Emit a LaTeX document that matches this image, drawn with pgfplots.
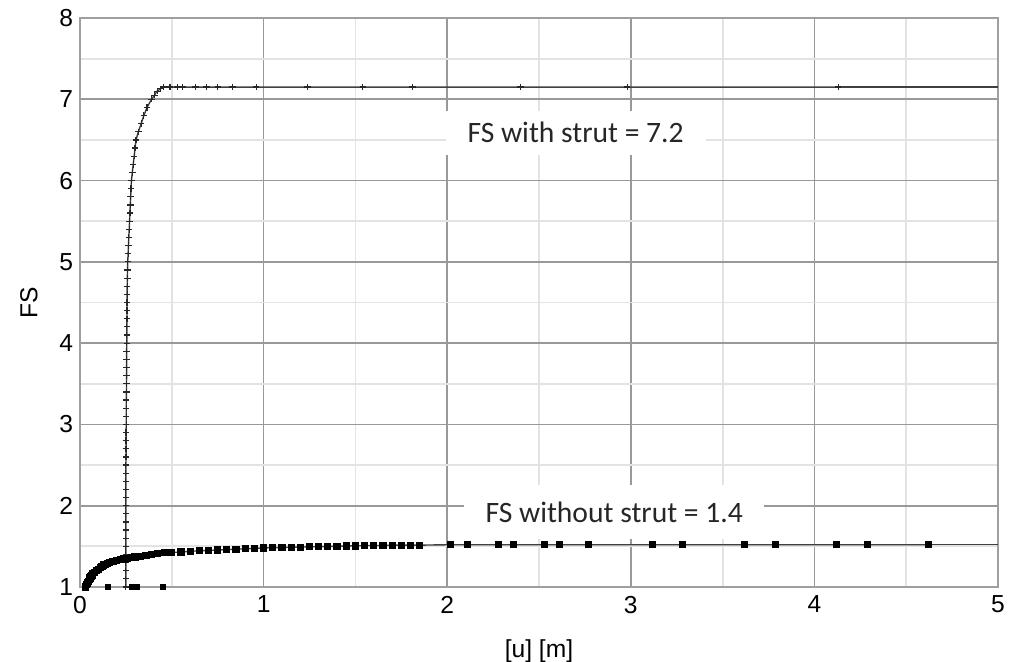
\documentclass[border=0pt]{standalone}
\usepackage{fontspec}
\setmainfont{Liberation Sans}
\newfontfamily\calibri{Carlito}
\usepackage{pgfplots}
\pgfplotsset{compat=1.18}

\begin{document}
\begin{tikzpicture}
\begin{axis}[
  width=459pt, height=284.5pt, scale only axis,
  xmin=0, xmax=5, ymin=1, ymax=8,
  xtick={0,1,2,3,4,5}, ytick={1,2,3,4,5,6,7,8},
  minor x tick num=1, minor y tick num=1,
  grid=both,
  major grid style={draw=gray!80, line width=0.8pt},
  minor grid style={draw=gray!22, line width=0.9pt},
  axis line style={draw=gray!75, line width=0.9pt},
  major tick length=0pt, minor tick length=0pt,
  tick label style={font=\fontsize{12.3}{14}\selectfont},
  /pgf/number format/assume math mode=true,
  xticklabel style={yshift=-1pt},
  xlabel={[u] [m]}, ylabel={FS},
  label style={font=\fontsize{12.3}{14}\selectfont},
  xlabel style={yshift=-6pt},
  ylabel style={yshift=4pt},
  clip=false,
]
% FS with strut
\addplot[draw=gray!50!black, line width=0.7pt, mark=+, mark size=1.6pt,
  mark options={black!85, line width=0.6pt}] coordinates {
(0.250,1.0)(0.250,1.1)(0.250,1.2)(0.250,1.3)(0.250,1.4)(0.250,1.5)(0.250,1.6)(0.250,1.7)
(0.250,1.8)(0.250,1.9)(0.250,2.0)(0.250,2.1)(0.250,2.2)(0.250,2.3)(0.250,2.4)(0.250,2.5)
(0.251,2.6)(0.251,2.7)(0.251,2.8)(0.251,2.9)(0.252,3.0)(0.252,3.1)(0.252,3.2)(0.252,3.3)
(0.253,3.4)(0.253,3.5)(0.254,3.6)(0.254,3.7)(0.254,3.8)(0.254,3.9)(0.255,4.0)(0.255,4.1)
(0.255,4.2)(0.256,4.3)(0.256,4.4)(0.256,4.5)(0.257,4.6)(0.257,4.7)(0.258,4.8)(0.259,4.9)
(0.260,5.0)(0.262,5.1)(0.264,5.2)(0.266,5.3)(0.268,5.4)(0.270,5.5)(0.272,5.6)(0.274,5.7)
(0.276,5.8)(0.278,5.9)(0.280,6.0)(0.285,6.1)(0.290,6.2)(0.295,6.3)(0.300,6.4)(0.305,6.5)
(0.318,6.6)(0.333,6.7)(0.348,6.8)(0.365,6.9)(0.390,7.0)(0.405,7.05)(0.420,7.1)(0.440,7.13)
(0.455,7.15)(0.49,7.15)(0.53,7.15)(0.56,7.15)(0.63,7.15)(0.69,7.15)(0.75,7.15)(0.83,7.15)
(0.96,7.15)(1.24,7.15)(1.54,7.15)(1.81,7.15)(2.40,7.15)(2.98,7.15)(4.13,7.15)
};
\addplot[draw=gray!50!black, line width=0.7pt] coordinates {(4.13,7.15)(5,7.15)};
% FS without strut
\addplot[draw=gray!50!black, line width=0.7pt, mark=square*, mark size=1.45pt,
  mark options={black}] coordinates {
(0.03,1.0)(0.035,1.03)(0.04,1.05)(0.045,1.07)(0.05,1.09)(0.055,1.11)(0.06,1.13)(0.065,1.145)
(0.07,1.16)(0.08,1.18)(0.09,1.2)(0.1,1.22)(0.11,1.24)(0.12,1.255)(0.13,1.27)(0.14,1.28)
(0.15,1.29)(0.16,1.30)(0.18,1.315)(0.2,1.325)(0.22,1.335)(0.24,1.345)(0.26,1.355)(0.28,1.36)
(0.3,1.37)(0.33,1.38)(0.36,1.39)(0.39,1.40)(0.42,1.41)(0.46,1.42)(0.5,1.425)(0.55,1.43)
(0.6,1.44)(0.65,1.445)(0.7,1.45)(0.75,1.455)(0.8,1.46)(0.85,1.465)(0.9,1.47)(0.95,1.475)
(1.0,1.48)(1.05,1.485)(1.1,1.485)(1.15,1.49)(1.2,1.49)(1.25,1.495)(1.3,1.495)(1.35,1.5)
(1.4,1.5)(1.45,1.505)(1.5,1.505)(1.55,1.51)(1.6,1.51)(1.65,1.51)(1.7,1.515)(1.75,1.515)
(1.8,1.515)(1.85,1.515)(2.02,1.52)(2.11,1.52)(2.28,1.52)(2.36,1.52)(2.53,1.52)(2.61,1.52)
(2.77,1.52)(3.12,1.52)(3.28,1.52)(3.62,1.52)(3.79,1.52)(4.12,1.52)(4.29,1.52)(4.62,1.52)
};
\addplot[draw=gray!50!black, line width=0.7pt] coordinates {(4.62,1.52)(5,1.52)};
% stray points on the baseline
\addplot[only marks, mark=square*, mark size=1.2pt, black] coordinates {
(0.15,1.0)(0.28,1.0)(0.31,1.0)(0.45,1.0)
};
\node[fill=white, minimum width=130pt, minimum height=22pt, inner sep=0pt,
  font=\calibri\fontsize{14.8}{17}\selectfont, text=black!85]
  at (axis cs:2.70,6.59) {FS with strut = 7.2};
\node[fill=white, minimum width=150pt, minimum height=27pt, inner sep=0pt,
  font=\calibri\fontsize{14.8}{17}\selectfont, text=black!85]
  at (axis cs:2.91,1.92) {FS without strut = 1.4};
\coordinate (o) at (axis cs:0,1);
\coordinate (e) at (axis cs:5,8);
\end{axis}
\pgfresetboundingbox
\path ([shift={(-40pt,-37.5pt)}]o) rectangle ([shift={(7pt,9pt)}]e);
\end{tikzpicture}
\end{document}
